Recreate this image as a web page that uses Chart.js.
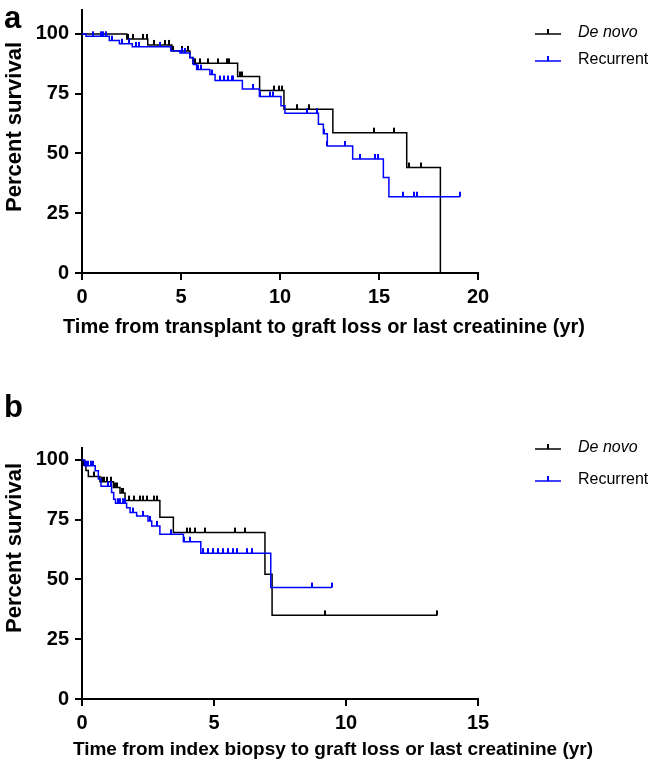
<!DOCTYPE html>
<html lang="en">
<head>
<meta charset="utf-8">
<title>Graft survival</title>
<script src="https://cdn.jsdelivr.net/npm/chart.js@4.4.0/dist/chart.umd.min.js"></script>
<style>
  body { margin: 0; background: #fff; }
  #wrap { position: relative; width: 650px; height: 766px; }
  canvas { position: absolute; left: 0; }
  #chartA { top: 0; }
  #chartB { top: 385px; }
</style>
</head>
<body>
<div id="wrap">
  <canvas id="chartA" width="650" height="350"></canvas>
  <canvas id="chartB" width="650" height="381"></canvas>
</div>

<script>
const FONT = '"Liberation Sans", Arial, Helvetica, sans-serif';

// ---- panel a : time from transplant (yr) ----
const aDenovoTimes  = [2.26, 3.32, 4.54, 5.45, 5.6, 7.86, 8.97, 10.2, 12.67, 16.4, 18.1];
const aDenovoSurv   = [97.9, 95.4, 92.9, 90.1, 87.7, 82.2, 76.3, 68.5, 58.7, 44.1, 0];
const aDenovoEnd    = 18.1;
const aDenovoCensor = [2.34, 2.59, 3.1, 3.3, 3.64, 4.19, 4.41, 4.61, 5.03, 5.37, 5.71, 5.96, 6.38, 6.85,
                       7.31, 7.42, 7.98, 8.1, 9.7, 9.95, 10.1, 10.85, 11.45, 14.75, 15.75, 16.5, 17.1];

const aRecurTimes  = [0.2, 1.38, 1.89, 2.54, 4.48, 4.95, 5.45, 5.62, 5.79, 6.46, 6.72, 8.1, 8.96,
                      10.05, 10.25, 11.94, 12.19, 12.39, 13.67, 15.22, 15.5];
const aRecurSurv   = [99.0, 97.2, 95.9, 94.6, 93.0, 92.0, 90.0, 87.2, 85.1, 83.0, 80.5, 77.0, 73.8,
                      70.0, 66.8, 62.2, 58.2, 53.1, 47.7, 39.9, 31.9];
const aRecurEnd    = 19.09;
const aRecurCensor = [0.57, 0.94, 1.08, 1.21, 1.5, 2.0, 2.39, 2.73, 2.9, 3.94, 5.03, 5.2, 5.88, 6.0,
                      6.55, 6.97, 7.17, 7.39, 7.56, 7.64, 8.65, 8.99, 9.5, 9.63, 11.35, 11.85, 12.22,
                      12.39, 13.28, 14.04, 14.8, 14.93, 16.23, 16.77, 16.94, 19.09];

// ---- panel b : time from index biopsy (yr) ----
const bDenovoTimes  = [0.05, 0.15, 0.24, 0.68, 1.19, 1.44, 1.63, 2.95, 3.46, 6.93, 7.2];
const bDenovoSurv   = [97.8, 95.6, 93.1, 90.9, 88.5, 86.2, 83.0, 76.0, 69.6, 52.2, 35.0];
const bDenovoEnd    = 13.45;
const bDenovoCensor = [0.11, 0.44, 0.75, 0.85, 0.95, 1.1, 1.25, 1.34, 1.5, 1.57, 1.79, 1.97, 2.2, 2.32,
                       2.45, 2.73, 2.85, 3.96, 4.09, 4.28, 4.66, 5.8, 6.17, 9.2, 13.45];

const bRecurTimes  = [0.1, 0.5, 0.62, 0.72, 1.12, 1.2, 1.27, 1.69, 1.82, 2.07, 2.5, 2.64, 2.95, 3.84, 4.5, 7.15];
const bRecurSurv   = [97.6, 95.5, 92.0, 89.0, 86.4, 83.6, 81.9, 80.0, 78.0, 76.6, 74.5, 72.4, 68.9, 65.8, 61.0, 46.6];
const bRecurEnd    = 9.46;
const bRecurCensor = [0.15, 0.24, 0.33, 0.43, 0.99, 1.09, 1.38, 1.45, 1.55, 1.63, 1.94, 2.32, 2.58, 2.85,
                      3.37, 3.86, 4.09, 4.6, 4.79, 4.98, 5.17, 5.35, 5.54, 5.73, 5.86, 6.24, 6.43, 8.7, 9.46];

const yTicks = [0, 25, 50, 75, 100];
const seriesNames = ['De novo', 'Recurrent'];
const BLACK = '#000000', BLUE = '#0000ff';

// step curve points for the KM line
function curve(times, surv, end) {
  const pts = [{x: 0, y: 100}];
  times.forEach((t, i) => pts.push({x: t, y: surv[i]}));
  if (end > times[times.length - 1]) pts.push({x: end, y: surv[surv.length - 1]});
  return pts;
}
// survival level at time t (for placing censor ticks on the curve)
function levelAt(times, surv, t) {
  let s = 100;
  times.forEach((tt, i) => { if (tt <= t) s = surv[i]; });
  return s;
}
function censorPts(times, surv, cens) {
  return cens.map(t => ({x: t, y: levelAt(times, surv, t)}));
}
// small upward tick used as point style
function tickMark(color) {
  const c = document.createElement('canvas');
  c.width = 2; c.height = 12;
  const g = c.getContext('2d');
  g.fillStyle = color;
  g.fillRect(0, 1, 2, 5);
  return c;
}

const panelDecor = {
  id: 'panelDecor',
  afterDraw(chart, args, o) {
    const c = chart.ctx;
    c.save();
    c.fillStyle = '#000';
    c.textAlign = 'left';
    c.textBaseline = 'alphabetic';
    c.font = 'bold 31px ' + FONT;
    c.fillText(o.letter, 4, o.letterY);

    c.font = 'bold ' + o.xTitleSize + 'px ' + FONT;
    c.textAlign = 'center';
    c.textBaseline = 'middle';
    c.fillText(o.xTitle, o.xTitleX, o.xTitleY);

    // rotated y title
    c.font = 'bold 22px ' + FONT;
    c.textBaseline = 'alphabetic';
    c.save();
    c.translate(21, o.yTitleY);
    c.rotate(-Math.PI / 2);
    c.fillText(o.yTitle, 0, 0);
    c.restore();

    // legend
    c.textAlign = 'left';
    c.textBaseline = 'middle';
    o.legend.forEach((it, i) => {
      const y = it.y;
      c.strokeStyle = it.color;
      c.lineWidth = 1.5;
      c.beginPath(); c.moveTo(535, y); c.lineTo(561, y); c.stroke();
      c.fillStyle = it.color;
      c.fillRect(547, y - 5, 2, 5);
      c.fillStyle = '#000';
      c.font = (i === 0 ? 'italic ' : '') + '16px ' + FONT;
      c.fillText(seriesNames[i], 578, y - 1);
    });
    c.restore();
  }
};

function makeChart(id, cfg) {
  const tickFont = {family: FONT, size: 20, weight: 'bold'};
  return new Chart(document.getElementById(id), {
    type: 'scatter',
    data: {
      datasets: [
        {data: curve(cfg.rTimes, cfg.rSurv, cfg.rEnd), showLine: true, stepped: true,
         borderColor: BLUE, borderWidth: 1.5, pointRadius: 0, fill: false},
        {data: censorPts(cfg.rTimes, cfg.rSurv, cfg.rCens), showLine: false,
         pointStyle: tickMark(BLUE), pointRadius: 3},
        {data: curve(cfg.dTimes, cfg.dSurv, cfg.dEnd), showLine: true, stepped: true,
         borderColor: BLACK, borderWidth: 1.5, pointRadius: 0, fill: false},
        {data: censorPts(cfg.dTimes, cfg.dSurv, cfg.dCens), showLine: false,
         pointStyle: tickMark(BLACK), pointRadius: 3}
      ]
    },
    options: {
      responsive: false,
      animation: false,
      layout: {padding: {left: 0, right: 172, top: cfg.padTop, bottom: 0}},
      plugins: {
        legend: {display: false},
        tooltip: {enabled: false},
        panelDecor: cfg.decor
      },
      scales: {
        x: {
          type: 'linear', min: 0, max: cfg.xMax,
          border: {color: '#000', width: 2},
          grid: {drawOnChartArea: false, color: '#000', lineWidth: 2, tickLength: 7},
          ticks: {stepSize: 5, color: '#000', font: tickFont, padding: 5, maxRotation: 0},
          afterFit: s => { s.height = cfg.xHeight; }
        },
        y: {
          type: 'linear', min: 0, max: cfg.yMax,
          border: {color: '#000', width: 2},
          grid: {drawOnChartArea: false, color: '#000', lineWidth: 2, tickLength: 7},
          ticks: {color: '#000', font: tickFont, padding: 6},
          afterBuildTicks: s => { s.ticks = yTicks.map(v => ({value: v})); },
          afterFit: s => { s.width = 82; s.paddingTop = 0; s.paddingBottom = 0; }
        }
      }
    },
    plugins: [panelDecor]
  });
}

makeChart('chartA', {
  dTimes: aDenovoTimes, dSurv: aDenovoSurv, dEnd: aDenovoEnd, dCens: aDenovoCensor,
  rTimes: aRecurTimes, rSurv: aRecurSurv, rEnd: aRecurEnd, rCens: aRecurCensor,
  xMax: 20, yMax: 110, padTop: 10, xHeight: 77,
  decor: {letter: 'a', letterY: 28,
          xTitle: 'Time from transplant to graft loss or last creatinine (yr)', xTitleSize: 20, xTitleX: 324, xTitleY: 327,
          yTitle: 'Percent survival', yTitleY: 127,
          legend: [{color: BLACK, y: 34}, {color: BLUE, y: 61}]}
});

makeChart('chartB', {
  dTimes: bDenovoTimes, dSurv: bDenovoSurv, dEnd: bDenovoEnd, dCens: bDenovoCensor,
  rTimes: bRecurTimes, rSurv: bRecurSurv, rEnd: bRecurEnd, rCens: bRecurCensor,
  xMax: 15, yMax: 105, padTop: 63, xHeight: 67,
  decor: {letter: 'b', letterY: 32,
          xTitle: 'Time from index biopsy to graft loss or last creatinine (yr)', xTitleSize: 19, xTitleX: 333, xTitleY: 365,
          yTitle: 'Percent survival', yTitleY: 163,
          legend: [{color: BLACK, y: 64}, {color: BLUE, y: 96}]}
});
</script>
</body>
</html>
